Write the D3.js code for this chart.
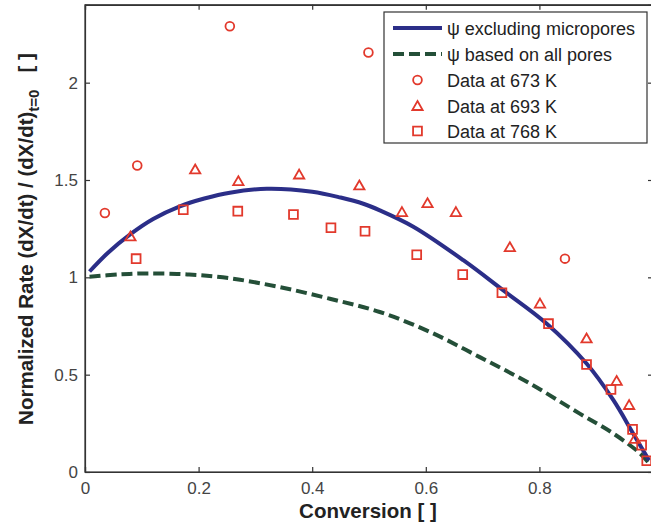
<!DOCTYPE html>
<html>
<head>
<meta charset="utf-8">
<script src="https://cdn.jsdelivr.net/npm/d3@7/dist/d3.min.js"></script>
<style>
  html, body { margin: 0; padding: 0; background: #fff; }
  svg { display: block; font-family: "Liberation Sans", Arial, sans-serif; }
</style>
</head>
<body>
<svg id="chart" width="651" height="527"></svg>
<script>
// Model curves: normalized rate vs conversion
const modelMicroX = [0.008, 0.04, 0.08, 0.12, 0.167, 0.21, 0.255, 0.32, 0.40, 0.45, 0.49, 0.519, 0.578, 0.666, 0.736, 0.813, 0.883, 0.93, 0.965, 0.993];
const modelMicroY = [1.03, 1.125, 1.222, 1.30, 1.365, 1.405, 1.435, 1.455, 1.44, 1.41, 1.378, 1.344, 1.26, 1.088, 0.934, 0.762, 0.557, 0.37, 0.198, 0.06];

const modelAllX = [0.008, 0.06, 0.11, 0.18, 0.255, 0.343, 0.431, 0.519, 0.607, 0.695, 0.783, 0.871, 0.93, 0.977, 0.993];
const modelAllY = [1.003, 1.015, 1.02, 1.015, 0.995, 0.95, 0.89, 0.822, 0.72, 0.59, 0.455, 0.30, 0.198, 0.096, 0.045];

// Measured data
const data673X = [0.035, 0.092, 0.255, 0.499, 0.845];
const data673Y = [1.33, 1.574, 2.29, 2.155, 1.096];

const data693X = [0.080, 0.194, 0.270, 0.377, 0.483, 0.558, 0.603, 0.653, 0.748, 0.801, 0.883, 0.936, 0.958, 0.968];
const data693Y = [1.21, 1.554, 1.494, 1.528, 1.472, 1.335, 1.381, 1.335, 1.155, 0.865, 0.686, 0.468, 0.344, 0.17];

const data768X = [0.090, 0.173, 0.269, 0.367, 0.433, 0.493, 0.584, 0.665, 0.734, 0.816, 0.883, 0.926, 0.964, 0.980, 0.989];
const data768Y = [1.096, 1.347, 1.34, 1.323, 1.255, 1.237, 1.116, 1.014, 0.921, 0.762, 0.552, 0.424, 0.219, 0.138, 0.058];

const xTicks = [0, 0.2, 0.4, 0.6, 0.8];
const yTicks = [0, 0.5, 1, 1.5, 2];

const legendLabels = ["\u03c8 excluding micropores", "\u03c8 based on all pores", "Data at 673 K", "Data at 693 K", "Data at 768 K"];

const svg = d3.select("#chart");
const plotLeft = 85, plotRight = 653, plotTop = 4.8, plotBottom = 472;

const x = d3.scaleLinear().domain([0, 1]).range([plotLeft, plotRight]);
const y = d3.scaleLinear().domain([0, 2.4]).range([plotBottom, plotTop]);

const axisColor = "#333";
const tickColor = "#444";
const blue = "#2b2e88";
const green = "#244f38";
const red = "#e2392c";

// frame
svg.append("rect")
  .attr("x", plotLeft).attr("y", plotTop)
  .attr("width", plotRight - plotLeft).attr("height", plotBottom - plotTop)
  .attr("fill", "none").attr("stroke", axisColor).attr("stroke-width", 1.2);

// axes (inward ticks)
const xAxis = svg.append("g").attr("transform", `translate(0,${plotBottom})`)
  .call(d3.axisBottom(x).tickValues(xTicks).tickSize(-5).tickPadding(10).tickFormat(d3.format("~g")));
const xAxisTop = svg.append("g").attr("transform", `translate(0,${plotTop})`)
  .call(d3.axisTop(x).tickValues(xTicks).tickSize(-5).tickFormat(""));
const yAxis = svg.append("g").attr("transform", `translate(${plotLeft},0)`)
  .call(d3.axisLeft(y).tickValues(yTicks).tickSize(-5).tickPadding(7).tickFormat(d3.format("~g")));
const yAxisRight = svg.append("g").attr("transform", `translate(${plotRight},0)`)
  .call(d3.axisRight(y).tickValues(yTicks).tickSize(-5).tickFormat(""));

[xAxis, xAxisTop, yAxis, yAxisRight].forEach(g => {
  g.select(".domain").attr("stroke", axisColor).attr("stroke-width", 1.2);
  g.selectAll(".tick line").attr("stroke", axisColor).attr("stroke-width", 1.2);
  g.selectAll(".tick text").attr("fill", tickColor)
    .style("font-size", "17px").style("font-family", "Liberation Sans, Arial, sans-serif");
});

// curves
const line = d3.line().x(d => x(d[0])).y(d => y(d[1])).curve(d3.curveCatmullRom.alpha(0.5));
const plot = svg.append("g");

plot.append("path")
  .datum(d3.zip(modelAllX, modelAllY))
  .attr("d", line)
  .attr("fill", "none").attr("stroke", green).attr("stroke-width", 4)
  .attr("stroke-dasharray", "11,5");

plot.append("path")
  .datum(d3.zip(modelMicroX, modelMicroY))
  .attr("d", line)
  .attr("fill", "none").attr("stroke", blue).attr("stroke-width", 4);

// markers
const symCircle = d3.symbol().type(d3.symbolCircle).size(60);
const symTri = d3.symbol().type(d3.symbolTriangle).size(46);
const symSquare = d3.symbol().type(d3.symbolSquare).size(78);

function markers(xs, ys, sym, dy) {
  plot.append("g").selectAll("path")
    .data(d3.zip(xs, ys))
    .join("path")
    .attr("transform", d => `translate(${x(d[0])},${y(d[1]) + (dy || 0)})`)
    .attr("d", sym())
    .attr("fill", "none").attr("stroke", red).attr("stroke-width", 1.8);
}
markers(data673X, data673Y, symCircle);
markers(data693X, data693Y, symTri, 1);
markers(data768X, data768Y, symSquare);

// legend
const lg = svg.append("g");
lg.append("rect")
  .attr("x", 384).attr("y", 12).attr("width", 263).attr("height", 131)
  .attr("fill", "#fff").attr("stroke", axisColor).attr("stroke-width", 1.2);
const rowY = [28, 54, 80, 106, 131];
lg.append("line").attr("x1", 393).attr("x2", 442).attr("y1", rowY[0]).attr("y2", rowY[0])
  .attr("stroke", blue).attr("stroke-width", 4);
lg.append("line").attr("x1", 393).attr("x2", 442).attr("y1", rowY[1]).attr("y2", rowY[1])
  .attr("stroke", green).attr("stroke-width", 4).attr("stroke-dasharray", "11,5");
[[symCircle, 0], [symTri, 1], [symSquare, 0]].forEach((s, i) => {
  lg.append("path")
    .attr("transform", `translate(417.5,${rowY[i + 2] + s[1]})`)
    .attr("d", s[0]())
    .attr("fill", "none").attr("stroke", red).attr("stroke-width", 1.8);
});
lg.selectAll("text.lab").data(legendLabels).join("text")
  .attr("class", "lab")
  .attr("x", 447).attr("y", (d, i) => rowY[i] + 6.5)
  .attr("fill", "#222")
  .style("font-size", "18px")
  .text(d => d);

// axis titles
svg.append("text")
  .attr("x", 368).attr("y", 518)
  .attr("text-anchor", "middle")
  .attr("fill", "#222")
  .style("font-size", "20.5px").style("font-weight", "bold")
  .text("Conversion [ ]");

const yt = svg.append("text")
  .attr("transform", "translate(33,239) rotate(-90)")
  .attr("text-anchor", "middle")
  .attr("fill", "#222")
  .style("font-size", "20.5px").style("font-weight", "bold");
yt.append("tspan").text("Normalized Rate (dX/dt) / (dX/dt)");
yt.append("tspan").attr("dy", 6).style("font-size", "15px").text("t=0");
yt.append("tspan").attr("dy", -6).text("\u00a0\u00a0\u00a0[ ]");
</script>
</body>
</html>
